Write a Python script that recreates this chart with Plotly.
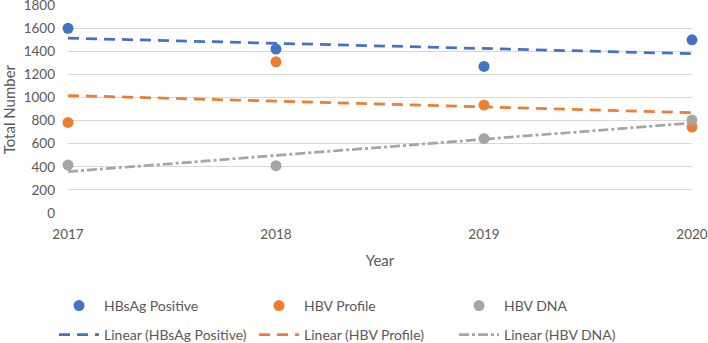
import numpy as np
import plotly.graph_objects as go

years = [2017, 2018, 2019, 2020]
hbsag_positive = [1600, 1420, 1270, 1500]
hbv_profile = [785, 1310, 935, 745]
hbv_dna = [415, 410, 645, 805]
y_ticks = [0, 200, 400, 600, 800, 1000, 1200, 1400, 1600, 1800]

series = [
    ("HBsAg Positive", hbsag_positive, "#4472C4", "11px,7px"),
    ("HBV Profile", hbv_profile, "#ED7D31", "11px,7px"),
    ("HBV DNA", hbv_dna, "#A5A5A5", "10px,3px,3px,3px"),
]

FONT = "Lato, Open Sans, sans-serif"
TXT = "#595959"
fig = go.Figure()
for name, vals, color, dash in series:
    fig.add_trace(go.Scatter(x=years, y=vals, mode="markers", name=name,
                             marker=dict(color=color, size=11), cliponaxis=False,
                             legend="legend"))
for name, vals, color, dash in series:
    coef = np.polyfit(np.array(years) - years[0], np.array(vals, dtype=float), 1)
    trend = np.polyval(coef, np.array(years) - years[0])
    fig.add_trace(go.Scatter(x=years, y=trend, mode="lines", name=f"Linear ({name})",
                             line=dict(color=color, width=2.75, dash=dash),
                             legend="legend2"))

leg_common = dict(orientation="h", xanchor="left", yanchor="top",
                  entrywidth=145, entrywidthmode="pixels", traceorder="normal",
                  itemwidth=40,
                  font=dict(family=FONT, size=14, color=TXT), bgcolor="rgba(0,0,0,0)")

fig.update_layout(
    width=708, height=343,
    margin=dict(l=68, r=16, t=5, b=130, autoexpand=False),
    paper_bgcolor="white", plot_bgcolor="white",
    font=dict(family=FONT, size=13, color=TXT),
    showlegend=True,
    legend=dict(x=-0.0224, y=-0.37, **leg_common),
    legend2=dict(x=-0.0224, y=-0.51, **leg_common),
    xaxis=dict(range=[2017, 2020], tickvals=years, ticktext=[str(y) for y in years],
               showgrid=False, zeroline=False, showline=False, automargin=False,
               ticklabelstandoff=11, ticklabeloverflow="allow",
               title=dict(text="Year", font=dict(size=15), standoff=14),
               tickfont=dict(size=13.5)),
    yaxis=dict(range=[0, 1802], tickvals=y_ticks, showgrid=True, gridcolor="#D9D9D9",
               gridwidth=1, zeroline=False, showline=False, automargin=False,
               ticklabelstandoff=12, ticklabeloverflow="allow",
               tickfont=dict(size=13.5)),
    annotations=[dict(text="Total Number", xref="paper", yref="paper",
                      x=-0.094, y=0.5, xanchor="center", yanchor="middle",
                      textangle=-90, showarrow=False,
                      font=dict(family=FONT, size=15, color=TXT))],
)
fig.write_html("out.html", config={"displayModeBar": False},
               post_script="document.body.style.margin='0px';")
